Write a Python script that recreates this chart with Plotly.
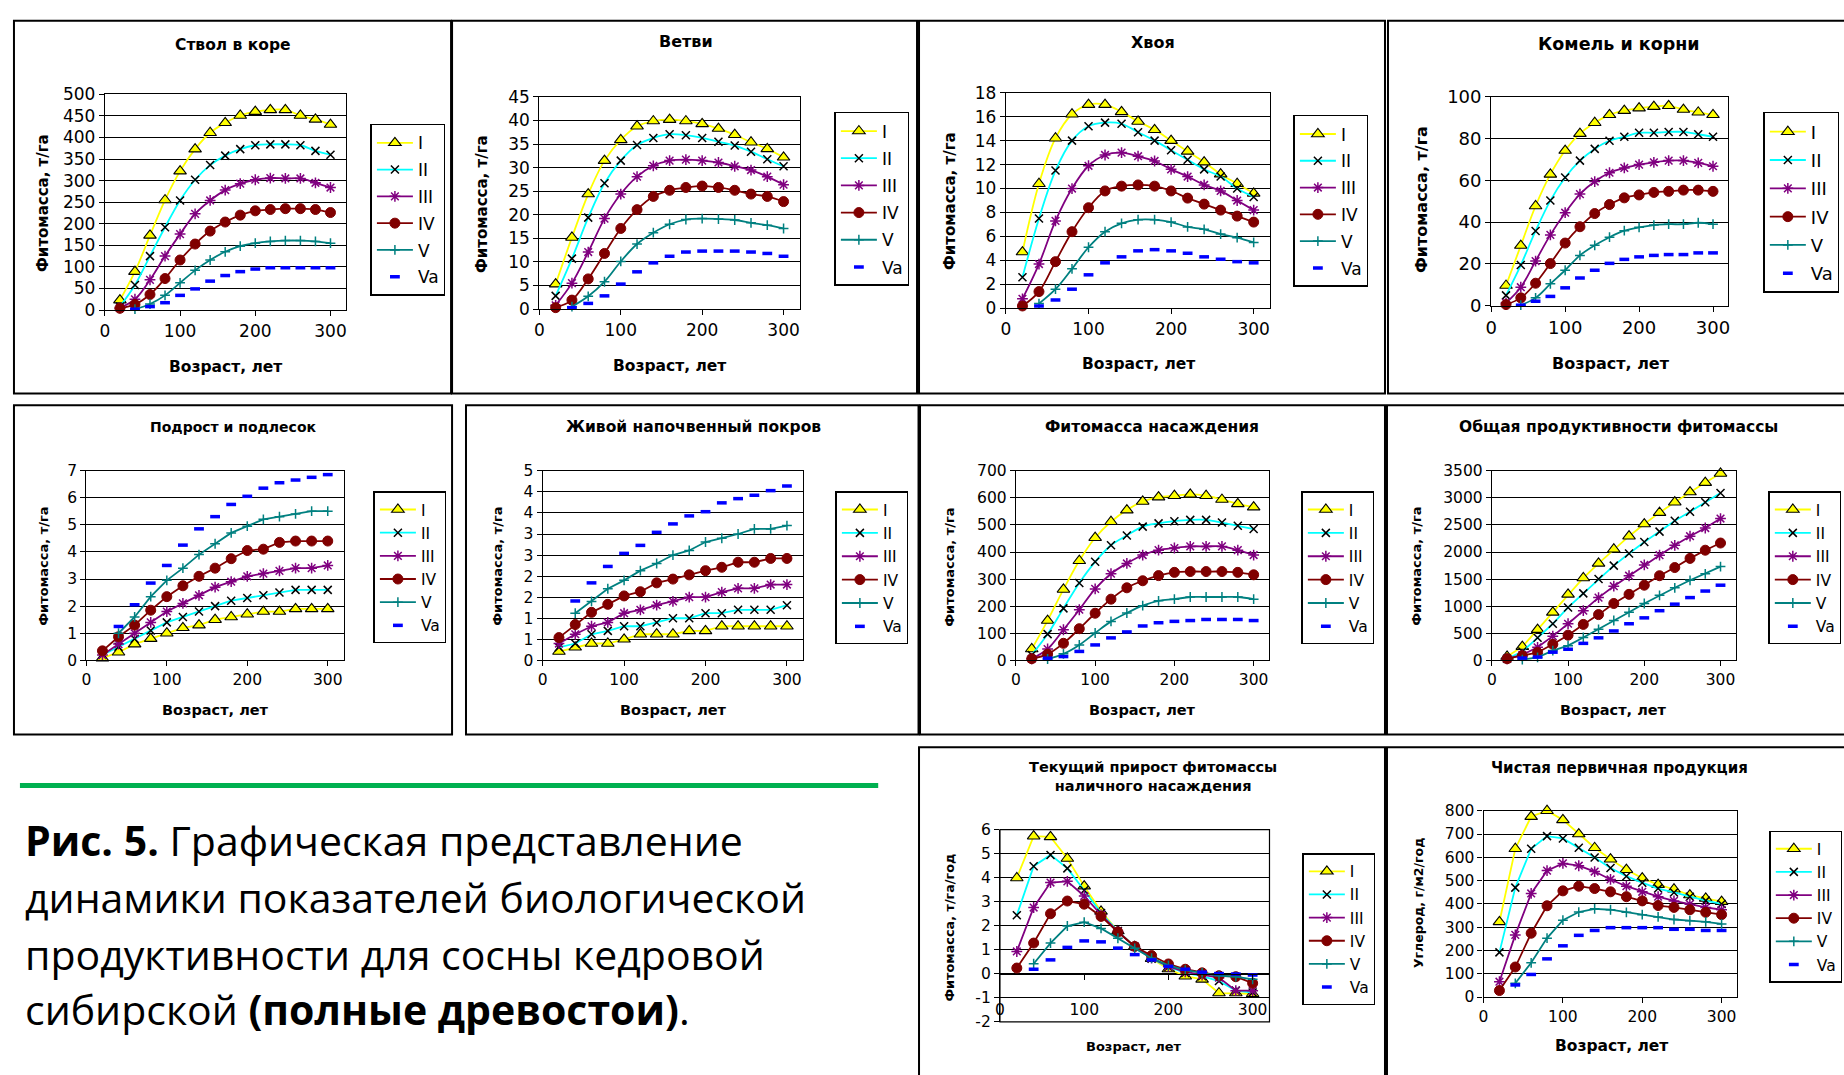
import plotly.graph_objects as go

W, H = 1844, 1075

# ---------------- data ----------------
ages = [20, 40, 60, 80, 100, 120, 140, 160, 180, 200, 220, 240, 260, 280, 300]
ages_from40 = [40, 60, 80, 100, 120, 140, 160, 180, 200, 220, 240, 260, 280, 300]
classes = ["I", "II", "III", "IV", "V", "Va"]

# Ствол в коре
stem_I = [23, 89, 173, 255, 322, 373, 411, 434, 451, 460, 464, 464, 451, 442, 430]
stem_II = [8, 58, 125, 192, 254, 302, 336, 358, 373, 382, 384, 384, 382, 369, 360]
stem_III = [5, 25, 70, 125, 176, 223, 254, 278, 293, 302, 306, 305, 305, 295, 284]
stem_IV = [4, 13, 36, 73, 116, 153, 183, 204, 220, 230, 233, 235, 235, 233, 226]
stem_V = [2, 14, 34, 63, 92, 116, 135, 148, 155, 159, 161, 161, 159, 155]
stem_Va = [2, 8, 17, 34, 49, 67, 80, 89, 95, 98, 98, 98, 98, 98]

# Ветви
br_I = [5.3, 15.2, 24.4, 31.5, 35.9, 38.8, 39.9, 40.2, 39.9, 39.3, 38.3, 37.0, 35.4, 34.0, 32.2]
br_II = [2.8, 10.7, 19.4, 26.7, 31.5, 34.8, 36.3, 37.1, 36.9, 36.3, 35.5, 34.7, 33.4, 31.8, 30.3]
br_III = [0.8, 5.5, 12.1, 19.2, 24.4, 28.1, 30.4, 31.5, 31.7, 31.5, 31.1, 30.3, 29.5, 28.1, 26.4]
br_IV = [0.3, 1.9, 6.4, 11.8, 17.1, 21.1, 23.9, 25.2, 25.8, 26.1, 25.8, 25.2, 24.4, 23.9, 22.8]
br_V = [0.5, 2.7, 5.8, 10.1, 13.8, 16.2, 18.0, 19.0, 19.2, 19.1, 18.9, 18.3, 17.8, 17.1]
br_Va = [0.3, 1.2, 2.8, 5.3, 7.9, 9.8, 11.2, 12.1, 12.3, 12.3, 12.3, 12.1, 11.8, 11.2]

# Хвоя
nd_I = [4.7, 10.4, 14.2, 16.2, 17.0, 17.0, 16.4, 15.6, 14.9, 14.0, 13.1, 12.2, 11.2, 10.4, 9.6]
nd_II = [2.6, 7.5, 11.5, 14.0, 15.2, 15.5, 15.4, 14.7, 14.0, 13.2, 12.4, 11.6, 11.0, 10.0, 9.3]
nd_III = [0.8, 3.7, 7.3, 10.0, 11.9, 12.8, 13.0, 12.7, 12.3, 11.6, 11.0, 10.3, 9.8, 9.0, 8.2]
nd_IV = [0.2, 1.4, 3.9, 6.4, 8.4, 9.8, 10.2, 10.3, 10.2, 9.8, 9.2, 8.7, 8.2, 7.7, 7.2]
nd_V = [0.4, 1.6, 3.3, 5.1, 6.4, 7.1, 7.4, 7.4, 7.2, 6.8, 6.6, 6.2, 5.9, 5.5]
nd_Va = [0.2, 0.7, 1.6, 2.8, 3.8, 4.3, 4.8, 4.9, 4.8, 4.6, 4.3, 4.1, 3.9, 3.8]

# Комель и корни
rt_I = [9.7, 28.8, 47.7, 62.8, 74.2, 82.3, 87.5, 91.3, 93.3, 94.5, 95.2, 95.6, 93.8, 92.5, 91.3]
rt_II = [5, 19.5, 35.8, 50.3, 61.3, 69.4, 75, 78.9, 80.8, 82.7, 82.7, 83.1, 83.1, 82, 80.8]
rt_III = [1.4, 8.9, 21.4, 33.9, 44.5, 53.4, 59.4, 63.6, 65.9, 67.5, 68.6, 69.4, 69.4, 68.3, 66.7]
rt_IV = [0.6, 3.8, 10.8, 20.2, 30, 37.8, 44.1, 48.4, 51.6, 53, 54.2, 54.7, 55.3, 55.3, 54.7]
rt_V = [0.3, 3.8, 10.5, 17, 24.1, 28.9, 32.8, 35.9, 37.5, 38.6, 39, 39, 39.7, 39]
rt_Va = [0.3, 2.2, 4.5, 8.6, 13.3, 17, 20.3, 22.2, 23.4, 24.1, 24.5, 24.5, 25.3, 25.3]

# Подрост и подлесок
ug_I = [0.08, 0.3, 0.6, 0.8, 1.0, 1.2, 1.3, 1.5, 1.6, 1.7, 1.8, 1.8, 1.9, 1.9, 1.9]
ug_II = [0.2, 0.5, 0.8, 1.1, 1.4, 1.6, 1.8, 2.0, 2.2, 2.3, 2.4, 2.5, 2.6, 2.6, 2.6]
ug_III = [0.2, 0.6, 1.0, 1.4, 1.8, 2.1, 2.4, 2.7, 2.9, 3.1, 3.2, 3.3, 3.4, 3.4, 3.5]
ug_IV = [0.35, 0.87, 1.3, 1.85, 2.35, 2.75, 3.1, 3.4, 3.75, 4.05, 4.1, 4.35, 4.4, 4.4, 4.4]
ug_V = [1.0, 1.6, 2.35, 2.95, 3.4, 3.9, 4.3, 4.7, 4.95, 5.2, 5.3, 5.4, 5.5, 5.5]
ug_Va = [1.25, 2.05, 2.85, 3.5, 4.25, 4.85, 5.3, 5.75, 6.05, 6.35, 6.55, 6.65, 6.75, 6.85]

# Живой напочвенный покров
gc_I = [0.21, 0.31, 0.4, 0.4, 0.5, 0.62, 0.62, 0.62, 0.7, 0.7, 0.81, 0.81, 0.81, 0.81, 0.81]
gc_II = [0.31, 0.4, 0.62, 0.7, 0.81, 0.81, 0.9, 1.0, 1.0, 1.12, 1.12, 1.2, 1.2, 1.2, 1.31]
gc_III = [0.4, 0.62, 0.81, 0.9, 1.12, 1.2, 1.31, 1.4, 1.5, 1.5, 1.62, 1.71, 1.71, 1.8, 1.8]
gc_IV = [0.54, 0.85, 1.14, 1.33, 1.53, 1.63, 1.84, 1.93, 2.03, 2.13, 2.21, 2.33, 2.33, 2.42, 2.42]
gc_V = [1.12, 1.4, 1.7, 1.9, 2.13, 2.3, 2.5, 2.61, 2.81, 2.9, 3.0, 3.12, 3.12, 3.2]
gc_Va = [1.41, 1.84, 2.23, 2.54, 2.73, 3.04, 3.24, 3.43, 3.53, 3.74, 3.84, 3.92, 4.03, 4.14]
gc_tickvals = [0, 0.5, 1, 1.5, 2, 2.5, 3, 3.5, 4, 4.5]
gc_ticktext = ["0", "1", "1", "2", "2", "3", "3", "4", "4", "5"]

# Фитомасса насаждения
sp_I = [42, 147, 262, 368, 453, 512, 555, 587, 603, 608, 613, 608, 594, 578, 566]
sp_II = [20, 97, 192, 286, 364, 425, 461, 494, 506, 514, 519, 519, 509, 497, 485]
sp_III = [6, 42, 113, 187, 264, 320, 358, 389, 407, 415, 421, 421, 421, 407, 389]
sp_IV = [6, 23, 63, 117, 174, 226, 268, 294, 313, 325, 328, 328, 328, 325, 316]
sp_V = [5, 24, 57, 101, 144, 175, 202, 220, 226, 234, 234, 234, 234, 226]
sp_Va = [8, 14, 33, 57, 83, 105, 127, 139, 144, 147, 151, 151, 151, 147]

# Общая продуктивности фитомассы
tp_I = [72, 253, 567, 887, 1219, 1521, 1792, 2052, 2293, 2517, 2728, 2921, 3108, 3283, 3452]
tp_II = [30, 163, 416, 676, 978, 1237, 1503, 1750, 1973, 2185, 2378, 2577, 2746, 2921, 3090]
tp_III = [30, 103, 241, 447, 676, 917, 1159, 1370, 1563, 1762, 1943, 2124, 2293, 2444, 2619]
tp_IV = [30, 85, 145, 296, 465, 664, 845, 1050, 1219, 1388, 1563, 1714, 1883, 2034, 2167]
tp_V = [12, 54, 181, 272, 422, 573, 736, 887, 1050, 1201, 1340, 1479, 1599, 1732]
tp_Va = [42, 60, 151, 205, 314, 416, 543, 676, 785, 917, 1038, 1159, 1280, 1388]

# Текущий прирост фитомассы наличного насаждения
ci_I = [3.99, 5.73, 5.70, 4.80, 3.65, 2.6, 1.78, 1.13, 0.63, 0.2, -0.1, -0.23, -0.8, -0.8, -0.83]
ci_II = [2.44, 4.48, 4.95, 4.39, 3.48, 2.53, 1.78, 1.13, 0.63, 0.29, 0.04, -0.1, -0.3, -0.7, -0.78]
ci_III = [0.93, 2.76, 3.8, 3.85, 3.24, 2.46, 1.76, 1.13, 0.65, 0.31, 0.08, -0.05, -0.16, -0.7, -0.7]
ci_IV = [0.24, 1.28, 2.5, 3.03, 2.9, 2.39, 1.74, 1.14, 0.76, 0.41, 0.19, 0.04, -0.08, -0.12, -0.39]
ci_V = [0.42, 1.28, 1.99, 2.15, 1.89, 1.48, 1.06, 0.65, 0.35, 0.15, 0.04, -0.08, -0.12, -0.23]
ci_Va = [0.19, 0.58, 1.1, 1.37, 1.33, 1.07, 0.8, 0.58, 0.31, 0.19, 0.07, 0.01, -0.01, -0.05]
ci_tickvals = [-2, -1, 0, 1, 2, 3, 4, 5, 6]
ci_ticktext = ["-2", "-1", "0", "1", "2", "3", "4", "5", "6"]

# Чистая первичная продукция
npp_I = [323, 637, 775, 800, 761, 700, 641, 592, 547, 511, 483, 463, 438, 424, 410]
npp_II = [192, 470, 637, 691, 681, 641, 599, 554, 519, 491, 466, 449, 431, 414, 400]
npp_III = [66, 267, 445, 543, 574, 564, 539, 505, 476, 452, 431, 413, 399, 385, 375]
npp_IV = [28, 129, 274, 392, 456, 476, 466, 452, 431, 413, 393, 385, 375, 364, 354]
npp_V = [59, 147, 253, 330, 365, 379, 375, 364, 354, 344, 333, 328, 323, 314]
npp_Va = [52, 97, 164, 220, 265, 286, 298, 298, 298, 298, 291, 291, 286, 286]

age_ticks = [0, 100, 200, 300]

# ---------------- styles ----------------
FONT = "DejaVu Sans"
FONT_B = "DejaVu Sans"

def fx(p):
    return p / W

def fy(p):
    return 1 - p / H

STYLE = {
    "I": dict(mode="lines+markers", line=dict(color="#FFFF00", width=1.8),
              marker=dict(symbol="triangle-up", size=11, color="#FFFF00",
                          line=dict(color="black", width=1.1))),
    "II": dict(mode="lines+markers", line=dict(color="#00FFFF", width=1.8),
               marker=dict(symbol="x-thin", size=8, color="black",
                           line=dict(color="black", width=1.5))),
    "III": dict(mode="lines+markers", line=dict(color="#800080", width=1.8),
                marker=dict(symbol="asterisk", size=9, color="#800080",
                            line=dict(color="#800080", width=1.5))),
    "IV": dict(mode="lines+markers", line=dict(color="#800000", width=1.8),
               marker=dict(symbol="circle", size=10, color="#800000",
                           line=dict(color="#800000", width=1))),
    "V": dict(mode="lines+markers", line=dict(color="#008080", width=1.8),
              marker=dict(symbol="cross-thin", size=7, color="#008080",
                          line=dict(color="#008080", width=1.5))),
    "Va": dict(mode="markers",
               marker=dict(symbol="line-ew", size=7, color="#0000FF",
                           line=dict(color="#0000FF", width=3.5))),
}

panels = [
    dict(title="Ствол в коре", tsize=15.5, txy=(228, 35),
         ytitle="Фитомасса, т/га", ytsize=15, ytxy=(37, 196),
         xtsize=15.5, xtxy=(220, 363),
         series=[stem_I, stem_II, stem_III, stem_IV, stem_V, stem_Va],
         yrange=[0, 500], dtick=50, plot=(99.3, 85, 341, 305),
         leg=(366, 115), legh=169, frame=(8, 10, 447, 390), spline=True, fs=17),
    dict(title="Ветви", tsize=16, txy=(683, 31),
         ytitle="Фитомасса, т/га", ytsize=15, ytxy=(478, 197),
         xtsize=15.5, xtxy=(666, 362),
         series=[br_I, br_II, br_III, br_IV, br_V, br_Va],
         yrange=[0, 45], dtick=5, plot=(535.7, 87.7, 797.3, 304),
         leg=(832, 103), legh=171, frame=(448, 10, 915, 390), spline=True, fs=17),
    dict(title="Хвоя", tsize=16, txy=(1152, 32),
         ytitle="Фитомасса, т/га", ytsize=15, ytxy=(948, 194),
         xtsize=15.5, xtxy=(1137, 360),
         series=[nd_I, nd_II, nd_III, nd_IV, nd_V, nd_Va],
         yrange=[0, 18], dtick=2, plot=(1004.3, 83.3, 1269.7, 303.3),
         leg=(1293, 106), legh=169, frame=(917, 10, 1385, 390), spline=True, fs=17),
    dict(title="Комель и корни", tsize=17.5, txy=(1620, 34),
         ytitle="Фитомасса, т/га", ytsize=16, ytxy=(1421, 192),
         xtsize=16, xtxy=(1612, 360),
         series=[rt_I, rt_II, rt_III, rt_IV, rt_V, rt_Va],
         yrange=[0, 100], dtick=20, plot=(1491.7, 87.3, 1729.3, 300.7),
         leg=(1765, 103), legh=178, frame=(1388, 10, 1860, 390), spline=True, fs=18),
    dict(title="Подрост и подлесок", tsize=14, txy=(228, 424),
         ytitle="Фитомасса, т/га", ytsize=13, ytxy=(38, 566),
         xtsize=14.5, xtxy=(210, 713),
         series=[ug_I, ug_II, ug_III, ug_IV, ug_V, ug_Va],
         yrange=[0, 7], dtick=1, plot=(80.7, 468.7, 339.3, 662.3),
         leg=(369, 490), legh=149, frame=(8, 402, 448, 738), spline=False, fs=15.5),
    dict(title="Живой напочвенный покров", tsize=15.5, txy=(690, 424),
         ytitle="Фитомасса, т/га", ytsize=13, ytxy=(494, 566),
         xtsize=14.5, xtxy=(670, 713),
         series=[gc_I, gc_II, gc_III, gc_IV, gc_V, gc_Va],
         yrange=[0, 4.5], dtick=0.5, plot=(539, 469, 800.7, 662.3),
         leg=(833, 490), legh=150, frame=(462, 402, 916.5, 738), spline=False, fs=15.5,
         tickvals=gc_tickvals, ticktext=gc_ticktext),
    dict(title="Фитомасса насаждения", tsize=15.5, txy=(1151, 424),
         ytitle="Фитомасса, т/га", ytsize=13, ytxy=(948, 567),
         xtsize=14.5, xtxy=(1141, 713),
         series=[sp_I, sp_II, sp_III, sp_IV, sp_V, sp_Va],
         yrange=[0, 700], dtick=100, plot=(1014.3, 469, 1269, 662.3),
         leg=(1301, 490), legh=150, frame=(918, 402, 1385, 738), spline=True, fs=15.5),
    dict(title="Общая продуктивности фитомассы", tsize=15.5, txy=(1620, 424),
         ytitle="Фитомасса, т/га", ytsize=13, ytxy=(1417, 566),
         xtsize=14.5, xtxy=(1615, 713),
         series=[tp_I, tp_II, tp_III, tp_IV, tp_V, tp_Va],
         yrange=[0, 3500], dtick=500, plot=(1492.3, 469, 1737.3, 662.3),
         leg=(1770, 490), legh=150, frame=(1387, 402, 1860, 738), spline=False, fs=15.5),
    dict(title="Текущий прирост фитомассы<br>наличного насаждения", tsize=14.5, txy=(1152, 781),
         ytitle="Фитомасса, т/га/год", ytsize=12.8, ytxy=(948, 935),
         xtsize=13, xtxy=(1133, 1056),
         series=[ci_I, ci_II, ci_III, ci_IV, ci_V, ci_Va],
         yrange=[-2, 6], dtick=1, plot=(998.3, 835, 1269, 1031),
         leg=(1302, 859), legh=147, frame=(917, 751, 1385, 1090), spline=False, fs=15.5,
         free_x=True, tickvals=ci_tickvals, ticktext=ci_ticktext),
    dict(title="Чистая первичная продукция", tsize=15, txy=(1621, 772),
         ytitle="Углерод, г/м2/год", ytsize=12.5, ytxy=(1418, 910),
         xtsize=15.5, xtxy=(1612, 1056),
         series=[npp_I, npp_II, npp_III, npp_IV, npp_V, npp_Va],
         yrange=[0, 800], dtick=100, plot=(1484, 815.7, 1739, 1005.7),
         leg=(1771, 836), legh=147, frame=(1387, 751, 1860, 1090), spline=False, fs=15.5),
]

fig = go.Figure()
layout = dict(
    width=W, height=H, margin=dict(l=0, r=0, t=0, b=0),
    paper_bgcolor="white", plot_bgcolor="white", showlegend=True,
    font=dict(family=FONT, color="black"),
)
annotations = []
shapes = []

for i, p in enumerate(panels, start=1):
    sfx = "" if i == 1 else str(i)
    xa, ya = "x" + sfx, "y" + sfx
    lg = "legend" + sfx
    x0, y0, x1, y1 = p["plot"]
    fs = p["fs"]
    for k, name in enumerate(classes):
        st = STYLE[name]
        xs = ages if len(p["series"][k]) == len(ages) else ages_from40
        tr = dict(x=xs, y=p["series"][k], name=name, xaxis=xa, yaxis=ya,
                  legend=lg, legendgroup=f"g{i}_{name}", mode=st["mode"],
                  marker=st["marker"], cliponaxis=False)
        if "line" in st:
            ln = dict(st["line"])
            ln["shape"] = "spline" if p["spline"] else "linear"
            tr["line"] = ln
        fig.add_trace(go.Scatter(**tr))

    ydom = [fy(y1), fy(y0)]
    xdef = dict(domain=[fx(x0), fx(x1)], range=[0, 320], tickvals=age_ticks,
                showgrid=False, zeroline=False, showline=True, linecolor="black",
                linewidth=1.2, ticks="outside", ticklen=5, tickcolor="black",
                tickfont=dict(family=FONT, size=fs, color="black"),
                fixedrange=True)
    if p.get("free_x"):
        pos = ydom[0] + (ydom[1] - ydom[0]) * (0 - p["yrange"][0]) / (p["yrange"][1] - p["yrange"][0])
        xdef.update(anchor="free", position=pos, mirror=False, ticklabelstandoff=16)
        shapes.append(dict(type="rect", xref="paper", yref="paper",
                           x0=fx(x0), x1=fx(x1), y0=ydom[0], y1=ydom[1],
                           line=dict(color="black", width=1.2)))
    else:
        xdef.update(anchor=ya, mirror=True)
    ydef = dict(domain=ydom, range=p["yrange"], dtick=p["dtick"], tick0=0,
                showgrid=True, gridcolor="black", gridwidth=1.3, zeroline=False,
                showline=True, linecolor="black", linewidth=1.2, mirror=True,
                ticks="outside", ticklen=5, tickcolor="black", anchor=xa,
                tickfont=dict(family=FONT, size=fs, color="black"), fixedrange=True)
    if "tickvals" in p:
        ydef.update(tickmode="array", tickvals=p["tickvals"], ticktext=p["ticktext"])
    layout["xaxis" + sfx] = xdef
    layout["yaxis" + sfx] = ydef

    lx, ly = p["leg"]
    item_h = fs * 1.3 + 3
    gap = max(0, (p["legh"] - 10 - 6 * item_h) / 5)
    layout[lg] = dict(x=fx(lx), y=fy(ly), xanchor="left", yanchor="top",
                      bordercolor="black", borderwidth=1.5, bgcolor="white",
                      font=dict(family=FONT, size=fs, color="black"),
                      traceorder="grouped", tracegroupgap=gap, itemwidth=36,
                      itemclick=False, itemdoubleclick=False)

    # frame of chart
    fx0, fy0, fx1, fy1 = p["frame"]
    shapes.append(dict(type="rect", xref="paper", yref="paper",
                       x0=fx(fx0), x1=fx(fx1), y0=fy(fy1), y1=fy(fy0),
                       line=dict(color="black", width=2)))
    # titles
    tx, ty = p["txy"]
    annotations.append(dict(text="<b>" + p["title"] + "</b>", x=fx(tx), y=fy(ty),
                            xref="paper", yref="paper", showarrow=False,
                            xanchor="center", yanchor="middle",
                            font=dict(family=FONT_B, size=p["tsize"], color="black")))
    xtx, xty = p["xtxy"]
    annotations.append(dict(text="<b>Возраст, лет</b>", x=fx(xtx), y=fy(xty),
                            xref="paper", yref="paper", showarrow=False,
                            xanchor="center", yanchor="middle",
                            font=dict(family=FONT_B, size=p["xtsize"], color="black")))
    ytx, yty = p["ytxy"]
    annotations.append(dict(text="<b>" + p["ytitle"] + "</b>", x=fx(ytx), y=fy(yty),
                            xref="paper", yref="paper", showarrow=False, textangle=-90,
                            xanchor="center", yanchor="middle",
                            font=dict(family=FONT_B, size=p["ytsize"], color="black")))

# green separator and caption
shapes.append(dict(type="line", xref="paper", yref="paper",
                   x0=fx(14), x1=fx(876), y0=fy(790), y1=fy(790),
                   line=dict(color="#00B050", width=5)))
caption = [
    ("<b>Рис. 5.</b> Графическая представление", 846),
    ("динамики показателей биологической", 904),
    ("продуктивности для сосны кедровой", 962),
    ("сибирской <b>(полные древостои)</b>.", 1018),
]
for txt, cy in caption:
    annotations.append(dict(text=txt, x=fx(17), y=fy(cy), xref="paper", yref="paper",
                            showarrow=False, xanchor="left", yanchor="middle",
                            font=dict(family="Open Sans", size=41, color="black")))

layout["annotations"] = annotations
layout["shapes"] = shapes
fig.update_layout(**layout)
fig.write_html("out.html")
